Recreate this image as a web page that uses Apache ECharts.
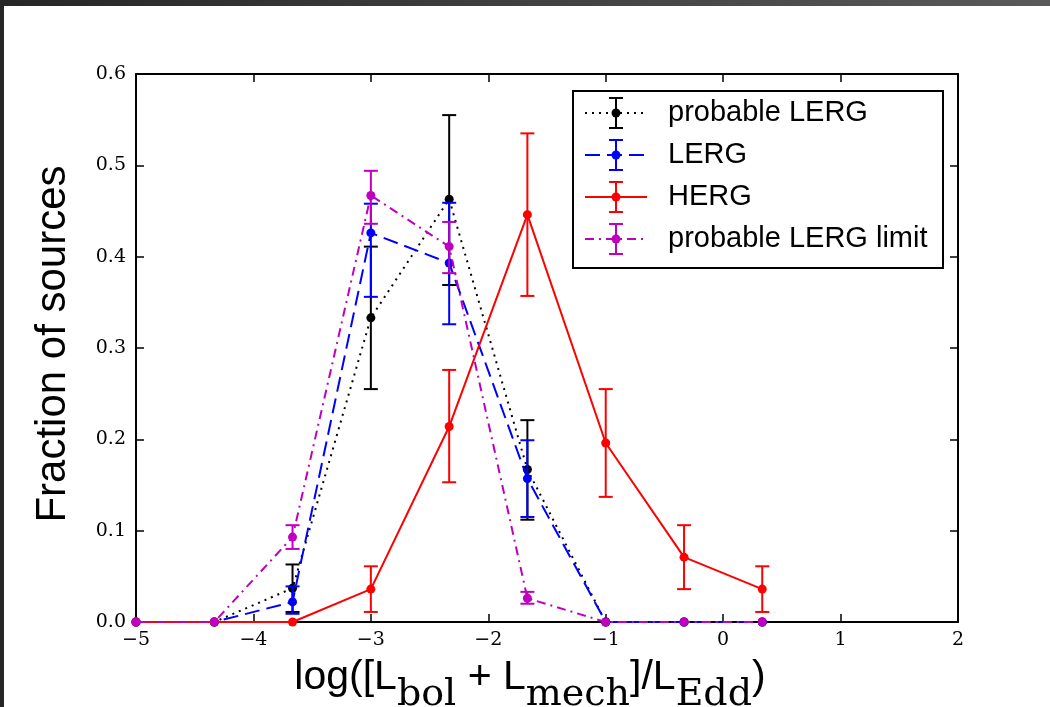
<!DOCTYPE html>
<html>
<head>
<meta charset="utf-8">
<script src="https://cdn.jsdelivr.net/npm/echarts@6/dist/echarts.min.js"></script>
<style>
  html, body { margin: 0; padding: 0; background: #ffffff; }
  #chart { width: 1050px; height: 707px; }
</style>
</head>
<body>
<div id="chart"></div>
<script>
// Bin centres of log([L_bol + L_mech]/L_Edd)
const xCenters = [-5, -4.333, -3.667, -3, -2.333, -1.667, -1, -0.333, 0.333];

// Fraction of sources per bin, with lower / upper error limits (null = no bar)
const probableLerg      = [0, 0, 0.037, 0.333, 0.463, 0.167, 0, 0, 0];
const probableLergLow   = [null, null, 0.011, 0.255, 0.369, 0.112, null, null, null];
const probableLergHigh  = [null, null, 0.063, 0.411, 0.555, 0.221, null, null, null];

const lerg              = [0, 0, 0.022, 0.426, 0.393, 0.157, 0, 0, 0];
const lergLow           = [null, null, 0.009, 0.356, 0.326, 0.115, null, null, null];
const lergHigh          = [null, null, 0.039, 0.458, 0.459, 0.199, null, null, null];

const herg              = [0, 0, 0, 0.036, 0.214, 0.446, 0.196, 0.071, 0.036];
const hergLow           = [null, null, null, 0.011, 0.153, 0.357, 0.137, 0.036, 0.011];
const hergHigh          = [null, null, null, 0.061, 0.276, 0.535, 0.255, 0.106, 0.061];

const lergLimit         = [0, 0, 0.093, 0.467, 0.411, 0.026, 0, 0, 0];
const lergLimitLow      = [null, null, 0.080, 0.436, 0.382, 0.020, null, null, null];
const lergLimitHigh     = [null, null, 0.106, 0.494, 0.438, 0.033, null, null, null];

const xTicks = [-5, -4, -3, -2, -1, 0, 1, 2];
const yTicks = [0.0, 0.1, 0.2, 0.3, 0.4, 0.5, 0.6];

const seriesDefs = [
  { name: 'probable LERG',       color: '#000000', dash: [2, 5],        vals: probableLerg, lo: probableLergLow, hi: probableLergHigh },
  { name: 'LERG',                color: '#0000ff', dash: [15, 7],       vals: lerg,         lo: lergLow,         hi: lergHigh },
  { name: 'HERG',                color: '#ff0000', dash: 'solid',       vals: herg,         lo: hergLow,         hi: hergHigh },
  { name: 'probable LERG limit', color: '#bf00bf', dash: [9, 5, 2, 5],  vals: lergLimit,    lo: lergLimitLow,    hi: lergLimitHigh }
];

const chart = echarts.init(document.getElementById('chart'), null, { renderer: 'canvas' });

const CAP = 7;
function errorBarRenderer(color) {
  return function (params, api) {
    const x = api.value(0);
    const lo = api.coord([x, api.value(1)]);
    const hi = api.coord([x, api.value(2)]);
    const st = { stroke: color, lineWidth: 2 };
    return {
      type: 'group',
      children: [
        { type: 'line', shape: { x1: lo[0], y1: lo[1], x2: hi[0], y2: hi[1] }, style: st },
        { type: 'line', shape: { x1: lo[0] - CAP, y1: lo[1], x2: lo[0] + CAP, y2: lo[1] }, style: st },
        { type: 'line', shape: { x1: hi[0] - CAP, y1: hi[1], x2: hi[0] + CAP, y2: hi[1] }, style: st }
      ]
    };
  };
}

const series = [];
seriesDefs.forEach(function (d, k) {
  series.push({
    type: 'line',
    name: d.name,
    data: xCenters.map(function (x, i) { return [x, d.vals[i]]; }),
    symbol: 'circle',
    symbolSize: 9,
    showAllSymbol: true,
    lineStyle: { color: d.color, width: 2, type: d.dash },
    itemStyle: { color: d.color },
    z: 10 + k * 2,
    animation: false,
    clip: false
  });
  const bars = [];
  xCenters.forEach(function (x, i) {
    if (d.lo[i] !== null) bars.push([x, d.lo[i], d.hi[i]]);
  });
  series.push({
    type: 'custom',
    name: d.name + ' err',
    data: bars,
    encode: { x: 0, y: [1, 2] },
    renderItem: errorBarRenderer(d.color),
    z: 11 + k * 2,
    animation: false
  });
});

// Legend block drawn with graphic primitives: dashed segment, errorbar and marker per row
const legendChildren = [
  { type: 'rect', shape: { x: 573, y: 91, width: 370, height: 177 },
    style: { fill: '#ffffff', stroke: '#000000', lineWidth: 2 } }
];
const rowY = [113, 155, 197, 239];
seriesDefs.forEach(function (d, i) {
  const y = rowY[i];
  const st = { stroke: d.color, lineWidth: 2 };
  legendChildren.push(
    { type: 'line', shape: { x1: 585, y1: y, x2: 647, y2: y },
      style: { stroke: d.color, lineWidth: 2, lineDash: d.dash === 'solid' ? null : d.dash } },
    { type: 'line', shape: { x1: 616, y1: y - 15, x2: 616, y2: y + 15 }, style: st },
    { type: 'line', shape: { x1: 609, y1: y - 15, x2: 623, y2: y - 15 }, style: st },
    { type: 'line', shape: { x1: 609, y1: y + 15, x2: 623, y2: y + 15 }, style: st },
    { type: 'circle', shape: { cx: 616, cy: y, r: 4.5 }, style: { fill: d.color } },
    { type: 'text', x: 668, y: y,
      style: { text: d.name, fill: '#000', fontFamily: 'Liberation Sans', fontSize: 29, verticalAlign: 'middle' } }
  );
});

const axisCommon = {
  axisLine: { show: true, onZero: false, lineStyle: { color: '#000', width: 2 } },
  axisTick: { show: true, inside: true, length: 8, lineStyle: { color: '#000', width: 1.5 } },
  splitLine: { show: false }
};

const option = {
  backgroundColor: '#ffffff',
  animation: false,
  grid: { left: 136, right: 92, top: 74, bottom: 85, containLabel: false, outerBoundsMode: 'none' },
  xAxis: [
    Object.assign({
      type: 'value', min: xTicks[0], max: xTicks[xTicks.length - 1], interval: 1, position: 'bottom',
      axisLabel: {
        color: '#000', fontFamily: 'DejaVu Serif', fontSize: 19, margin: 9,
        formatter: function (v) { return String(v).replace('-', '\u2212'); }
      },
      name: '{a|log([L}{s|bol}{a| + L}{s|mech}{a|]/L}{s|Edd}{a|)}',
      nameLocation: 'middle',
      nameGap: 35,
      nameTextStyle: {
        padding: [0, 34, 0, 0],
        rich: {
          a: { fontFamily: 'Liberation Sans', fontSize: 41, color: '#000', verticalAlign: 'top' },
          s: { fontFamily: 'DejaVu Serif', fontSize: 38, color: '#000', verticalAlign: 'top', padding: [19, 0, 0, 0] }
        }
      }
    }, axisCommon),
    Object.assign({
      type: 'value', min: xTicks[0], max: xTicks[xTicks.length - 1], interval: 1, position: 'top',
      axisLabel: { show: false }
    }, axisCommon)
  ],
  yAxis: [
    Object.assign({
      type: 'value', min: yTicks[0], max: yTicks[yTicks.length - 1], interval: 0.1, position: 'left',
      axisLabel: {
        color: '#000', fontFamily: 'DejaVu Serif', fontSize: 19, margin: 10,
        formatter: function (v) { return v.toFixed(1); }
      },
      name: 'Fraction of sources',
      nameLocation: 'middle',
      nameGap: 62,
      nameTextStyle: { fontFamily: 'Liberation Sans', fontSize: 42, color: '#000', padding: [0, 0, 0, 8] }
    }, axisCommon),
    Object.assign({
      type: 'value', min: yTicks[0], max: yTicks[yTicks.length - 1], interval: 0.1, position: 'right',
      axisLabel: { show: false }
    }, axisCommon)
  ],
  series: series,
  graphic: [
    { type: 'group', z: 100, children: legendChildren },
    { type: 'rect', z: 100, shape: { x: 0, y: 0, width: 4, height: 707 }, style: { fill: '#262626' } },
    { type: 'rect', z: 100, shape: { x: 0, y: 0, width: 1050, height: 6 },
      style: { fill: new echarts.graphic.LinearGradient(0, 0, 1, 0, [
        { offset: 0, color: '#262626' }, { offset: 1, color: '#5a5a5a' }
      ]) } }
  ]
};

chart.setOption(option);
</script>
</body>
</html>
